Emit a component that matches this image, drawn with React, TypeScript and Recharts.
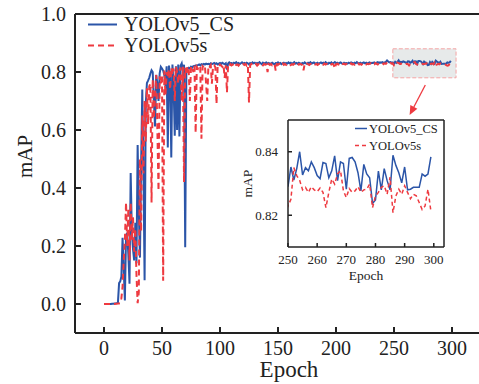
import { LineChart, Line, XAxis, YAxis, ReferenceArea, ReferenceLine, Legend } from 'recharts';

const epochTicks = [0, 50, 100, 150, 200, 250, 300];
const mapTicks = [0, 0.2, 0.4, 0.6, 0.8, 1.0];
const insetEpochTicks = [250, 260, 270, 280, 290, 300];
const insetMapTicks = [0.82, 0.84];

// mAP per epoch (0..299)
const yolov5CS = [
  0, 0, 0, 0, 0, 0, 0, 0.001, 0.001, 0.002, 0.002, 0.003, 0.004,
  0.072, 0.078, 0.095, 0.228, 0.12, 0.012, 0.236,
  0.245, 0.17, 0.07, 0.452, 0.25, 0.19, 0.15, 0.28, 0.14, 0.548,
  0.32, 0.16, 0.48, 0.74, 0.46, 0.082, 0.69, 0.762, 0.77, 0.78,
  0.795, 0.806, 0.8, 0.7, 0.612, 0.79, 0.76, 0.7, 0.795, 0.818,
  0.812, 0.805, 0.79, 0.752, 0.82, 0.54, 0.822, 0.79, 0.505, 0.826,
  0.75, 0.58, 0.82, 0.6, 0.826, 0.578, 0.822, 0.83, 0.805, 0.825,
  0.196, 0.808, 0.812, 0.815, 0.812, 0.818, 0.815, 0.82, 0.821, 0.822,
  0.822, 0.824, 0.826, 0.823, 0.827, 0.825, 0.828, 0.826, 0.829, 0.827,
  0.828, 0.826, 0.83, 0.827, 0.829, 0.831, 0.828, 0.83, 0.826, 0.829,
  0.831, 0.828, 0.832, 0.829, 0.827, 0.83, 0.808, 0.829, 0.833, 0.83,
  0.831, 0.828, 0.832, 0.83, 0.834, 0.829, 0.831, 0.827, 0.83, 0.833,
  0.829, 0.831, 0.828, 0.832, 0.83, 0.826, 0.831, 0.829, 0.833, 0.83,
  0.832, 0.828, 0.831, 0.829, 0.834, 0.83, 0.827, 0.832, 0.829, 0.831,
  0.833, 0.829, 0.831, 0.828, 0.83, 0.832, 0.829, 0.826, 0.831, 0.83,
  0.833, 0.829, 0.831, 0.827, 0.83, 0.832, 0.828, 0.831, 0.829, 0.833,
  0.83, 0.832, 0.828, 0.831, 0.834, 0.829, 0.831, 0.828, 0.832, 0.83,
  0.827, 0.831, 0.829, 0.833, 0.83, 0.828, 0.832, 0.83, 0.834, 0.829,
  0.831, 0.833, 0.829, 0.83, 0.832, 0.828, 0.831, 0.833, 0.83, 0.832,
  0.829, 0.834, 0.831, 0.828, 0.832, 0.83, 0.833, 0.829, 0.831, 0.834,
  0.83, 0.832, 0.829, 0.831, 0.833, 0.83, 0.828, 0.832, 0.83, 0.831,
  0.829, 0.832, 0.83, 0.833, 0.831, 0.829, 0.832, 0.83, 0.834, 0.831,
  0.83, 0.832, 0.829, 0.831, 0.833, 0.83, 0.832, 0.829, 0.831, 0.833,
  0.83, 0.832, 0.831, 0.833, 0.83, 0.832, 0.834, 0.831, 0.833, 0.832,
  0.834, 0.831, 0.833, 0.835, 0.84, 0.836, 0.833, 0.834, 0.832, 0.8328,
  0.829, 0.8352, 0.8311, 0.8347, 0.84, 0.8327, 0.835, 0.834, 0.8368, 0.835,
  0.8325, 0.8315, 0.8366, 0.8363, 0.8318, 0.834, 0.8387, 0.8309, 0.8368, 0.8363,
  0.8282, 0.8379, 0.8382, 0.8368, 0.8334, 0.8277, 0.836, 0.833, 0.8318, 0.8237,
  0.8248, 0.8339, 0.828, 0.8347, 0.8309, 0.828, 0.8389, 0.8357, 0.8334, 0.8302,
  0.8352, 0.828, 0.8282, 0.8288, 0.8288, 0.8288, 0.833, 0.8323, 0.833, 0.8384,
];

const yolov5s = [
  0, 0, 0, 0, 0, 0, 0, 0, 0, 0, 0.001, 0.001, 0.002, 0.002, 0.003,
  0.02, 0.06, 0.15, 0.22, 0.35,
  0.2, 0.33, 0.15, 0.35, 0.22, 0.3, 0.18, 0.26, 0.1, 0.003,
  0.04, 0.5, 0.25, 0.65, 0.45, 0.7, 0.56, 0.745, 0.62, 0.75,
  0.76, 0.35, 0.775, 0.64, 0.72, 0.79, 0.6, 0.39, 0.785, 0.76,
  0.79, 0.08, 0.805, 0.72, 0.8, 0.78, 0.81, 0.74, 0.815, 0.79,
  0.812, 0.7, 0.818, 0.8, 0.76, 0.805, 0.815, 0.7, 0.818, 0.42,
  0.815, 0.79, 0.82, 0.81, 0.7, 0.818, 0.82, 0.8, 0.822, 0.59,
  0.818, 0.812, 0.822, 0.815, 0.57, 0.82, 0.816, 0.822, 0.76, 0.7,
  0.822, 0.818, 0.824, 0.76, 0.82, 0.823, 0.816, 0.69, 0.824, 0.82,
  0.826, 0.822, 0.818, 0.825, 0.78, 0.823, 0.73, 0.826, 0.821, 0.827,
  0.823, 0.826, 0.82, 0.828, 0.824, 0.826, 0.822, 0.828, 0.825, 0.823,
  0.827, 0.824, 0.828, 0.822, 0.826, 0.695, 0.825, 0.828, 0.823, 0.827,
  0.825, 0.828, 0.822, 0.827, 0.824, 0.829, 0.826, 0.823, 0.828, 0.825,
  0.826, 0.8, 0.827, 0.824, 0.828, 0.823, 0.826, 0.829, 0.805, 0.827,
  0.825, 0.828, 0.823, 0.827, 0.83, 0.825, 0.828, 0.824, 0.827, 0.826,
  0.829, 0.824, 0.827, 0.825, 0.828, 0.823, 0.827, 0.829, 0.825, 0.828,
  0.826, 0.824, 0.806, 0.828, 0.825, 0.829, 0.826, 0.824, 0.828, 0.827,
  0.825, 0.829, 0.826, 0.828, 0.824, 0.827, 0.83, 0.826, 0.828, 0.825,
  0.829, 0.826, 0.828, 0.824, 0.827, 0.829, 0.826, 0.828, 0.825, 0.812,
  0.827, 0.829, 0.826, 0.828, 0.825, 0.83, 0.827, 0.829, 0.826, 0.828,
  0.824, 0.829, 0.827, 0.83, 0.826, 0.828, 0.825, 0.829, 0.827, 0.83,
  0.826, 0.828, 0.825, 0.829, 0.827, 0.83, 0.826, 0.829, 0.827, 0.828,
  0.83, 0.826, 0.829, 0.827, 0.831, 0.828, 0.826, 0.83, 0.828, 0.829,
  0.831, 0.827, 0.83, 0.828, 0.832, 0.829, 0.827, 0.831, 0.829, 0.8304,
  0.8229, 0.825, 0.835, 0.8325, 0.831, 0.828, 0.8288, 0.8272, 0.829, 0.828,
  0.8274, 0.8286, 0.8272, 0.8224, 0.8272, 0.8314, 0.8298, 0.833, 0.8341, 0.8277,
  0.8256, 0.8284, 0.8272, 0.8277, 0.829, 0.8272, 0.828, 0.8282, 0.8298, 0.8224,
  0.8261, 0.8272, 0.8288, 0.8293, 0.8266, 0.832, 0.8208, 0.8261, 0.8282, 0.8266,
  0.8293, 0.8272, 0.8252, 0.8266, 0.8261, 0.824, 0.8218, 0.8229, 0.8282, 0.8213,
];

const rows = yolov5CS.map((v, i) => ({ epoch: i, cs: v, s: yolov5s[i] }));
const insetRows = rows.slice(249);

const BLUE = '#2b55a8';
const RED = '#ee3a40';
const INK = '#222';
const FONT = 'Liberation Serif';

function Arrow(props: any) {
  const { x1, y1, x2, y2 } = props;
  const ang = Math.atan2(y2 - y1, x2 - x1);
  const len = 9;
  const w = 4;
  const bx = x2 - len * Math.cos(ang);
  const by = y2 - len * Math.sin(ang);
  const px = -Math.sin(ang) * w;
  const py = Math.cos(ang) * w;
  return (
    <g>
      <line x1={x1} y1={y1} x2={bx} y2={by} stroke={RED} strokeWidth={1.3} />
      <polygon points={`${x2},${y2} ${bx + px},${by + py} ${bx - px},${by - py}`} fill={RED} />
    </g>
  );
}

function makeLegend(fs: number, lineLen: number, rowH: number, textX: number, dash: string, sw: number) {
  return ({ payload }: any) => (
    <svg width={textX + fs * 6} height={rowH * 2 + 4} style={{ display: 'block', overflow: 'visible' }}>
      {(payload || []).map((p: any, i: number) => (
        <g key={p.value} transform={`translate(0, ${i * rowH})`}>
          <line x1={2} x2={2 + lineLen} y1={rowH / 2} y2={rowH / 2} stroke={p.color} strokeWidth={sw}
            strokeDasharray={i === 1 ? dash : undefined} />
          <text x={textX} y={rowH / 2 + fs * 0.33} fontSize={fs} fontFamily={FONT} fill={INK}>{p.value}</text>
        </g>
      ))}
    </svg>
  );
}

function Inset() {
  return (
    <div style={{ position: 'absolute', left: 230, top: 110 }}>
      <LineChart width={225} height={180} data={insetRows} margin={{ top: 10, right: 11, bottom: 0, left: 0 }}
        style={{ fontFamily: FONT }}>
        <XAxis dataKey="epoch" type="number" domain={[250, 303.5]} allowDataOverflow ticks={insetEpochTicks}
          height={43} stroke={INK} strokeWidth={1.5} tickSize={-4} tickMargin={12}
          tick={{ fontSize: 13, fill: INK, fontFamily: FONT }}
          label={({ viewBox }: any) => (
            <text x={viewBox.x + viewBox.width / 2} y={viewBox.y + 33} textAnchor="middle" fontSize={13.5}
              fontFamily={FONT} fill={INK}>Epoch</text>
          )} />
        <YAxis type="number" domain={[0.81, 0.85]} allowDataOverflow ticks={insetMapTicks} width={58}
          stroke={INK} strokeWidth={1.5} tickSize={-4} tickMargin={14}
          tickFormatter={(v: number) => v.toFixed(2)}
          tick={{ fontSize: 13, fill: INK, fontFamily: FONT }}
          label={({ viewBox }: any) => {
            const cx = viewBox.x + 17;
            const cy = viewBox.y + viewBox.height / 2;
            return (
              <text x={cx} y={cy} transform={`rotate(-90 ${cx} ${cy})`} textAnchor="middle"
                dominantBaseline="central" fontSize={13.5} fontFamily={FONT} fill={INK}>mAP</text>
            );
          }} />
        <ReferenceLine y={0.85} stroke={INK} strokeWidth={1.5} ifOverflow="visible" />
        <ReferenceLine x={303.5} stroke={INK} strokeWidth={1.5} ifOverflow="visible" />
        <Legend layout="vertical" align="center" verticalAlign="middle"
          wrapperStyle={{ left: 123, top: 10, width: 'auto' }}
          content={makeLegend(12.5, 12, 17, 16, '4 3', 1.5)} />
        <Line type="linear" dataKey="cs" name="YOLOv5_CS" stroke={BLUE} strokeWidth={1.5} dot={false}
          activeDot={false} isAnimationActive={false} />
        <Line type="linear" dataKey="s" name="YOLOv5s" stroke={RED} strokeWidth={1.5} strokeDasharray="4 3"
          dot={false} activeDot={false} isAnimationActive={false} />
      </LineChart>
    </div>
  );
}

export default function App() {
  return (
    <div style={{ position: 'absolute', left: 0, top: 0, width: 479, height: 384, overflow: 'hidden', background: '#fff' }}>
      <LineChart width={500} height={384} data={rows} margin={{ top: 14, right: 19, bottom: 0, left: 0 }}
        style={{ fontFamily: FONT }}>
        <ReferenceArea x1={249} x2={303.5} y1={0.78} y2={0.88} fill="#e4e8e8" fillOpacity={0.9}
          stroke="#f4a4a4" strokeDasharray="4 2" strokeWidth={1} />
        <XAxis dataKey="epoch" type="number" domain={[-25, 325]} ticks={epochTicks} height={51}
          stroke={INK} strokeWidth={2} tickSize={-6} tickMargin={14}
          tick={{ fontSize: 20, fill: INK, fontFamily: FONT }}
          label={({ viewBox }: any) => (
            <text x={viewBox.x + viewBox.width / 2 + 11} y={viewBox.y + 44} textAnchor="middle" fontSize={23}
              fontFamily={FONT} fill={INK}>Epoch</text>
          )} />
        <YAxis type="number" domain={[-0.1, 1.0]} ticks={mapTicks} width={75}
          stroke={INK} strokeWidth={2} tickSize={-6} tickMargin={15}
          tickFormatter={(v: number) => v.toFixed(1)}
          tick={{ fontSize: 20, fill: INK, fontFamily: FONT }}
          label={({ viewBox }: any) => {
            const cx = viewBox.x + 25;
            const cy = viewBox.y + viewBox.height / 2 - 17;
            return (
              <text x={cx} y={cy} transform={`rotate(-90 ${cx} ${cy})`} textAnchor="middle"
                dominantBaseline="central" fontSize={21} fontFamily={FONT} fill={INK}>mAP</text>
            );
          }} />
        <ReferenceLine y={1.0} stroke={INK} strokeWidth={2} ifOverflow="visible" />
        <Legend layout="vertical" align="center" verticalAlign="middle"
          wrapperStyle={{ left: 86, top: 14, width: 'auto' }}
          content={makeLegend(20, 29, 21, 38, '6 4', 2)} />
        <Line type="linear" dataKey="cs" name="YOLOv5_CS" stroke={BLUE} strokeWidth={2} dot={false}
          activeDot={false} isAnimationActive={false} />
        <Line type="linear" dataKey="s" name="YOLOv5s" stroke={RED} strokeWidth={2} strokeDasharray="6 4"
          dot={false} activeDot={false} isAnimationActive={false} />
        <ReferenceLine segment={[{ x: 277, y: 0.755 }, { x: 263.5, y: 0.652 }]} shape={Arrow} />
      </LineChart>
      <Inset />
    </div>
  );
}
